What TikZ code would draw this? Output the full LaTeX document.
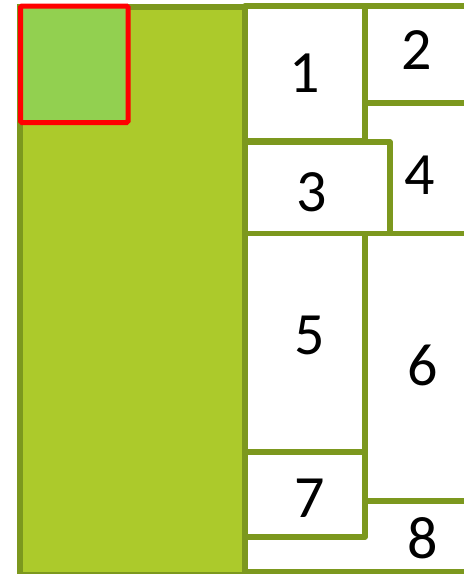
\documentclass[tikz,border=0pt]{standalone}
\usepackage{fontspec}
\setmainfont{Carlito}
\definecolor{leaf}{HTML}{ACCA2B}
\definecolor{rim}{HTML}{7C981E}
\definecolor{sprout}{HTML}{92D050}
\begin{document}
\begin{tikzpicture}[
    x=1pt, y=-1pt,
    font=\fontsize{60}{60}\selectfont,
    panel/.style={draw=rim, line width=5.5pt, fill=leaf},
    focus/.style={draw=red, line width=5pt, fill=sprout, rounded corners=1.5pt},
    cell/.style={draw=rim, line width=5.5pt, fill=white, line join=round},
    num/.style={inner sep=0pt}
]
\clip (0,0) rectangle (464,574);
% left panel with the marked square
\draw[panel] (20,7) rectangle (245,575);
\draw[focus] (20.5,6) rectangle (128,122.5);
% cells on the right, later ones drawn over earlier ones
\draw[cell] (245,6) rectangle (365,141);
\draw[cell] (365,6) rectangle (480,103);
\draw[cell] (365,103) rectangle (480,233.5);
\draw[cell] (245,142) rectangle (390,233.5);
\draw[cell] (245,233.5) rectangle (365,452);
\draw[cell] (365,233.5) rectangle (480,501);
\draw[cell] (245,501) rectangle (480,572);
\draw[cell] (245,452) rectangle (365,537);

\node[num] (n1) at (305,73) {1};
\node[num] (n2) at (417,50) {2};
\node[num] (n3) at (312,192) {3};
\node[num] (n4) at (420,175) {4};
\node[num] (n5) at (310,335) {5};
\node[num] (n6) at (423,365) {6};
\node[num] (n7) at (310,498) {7};
\node[num] (n8) at (423,538) {8};
\end{tikzpicture}
\end{document}
